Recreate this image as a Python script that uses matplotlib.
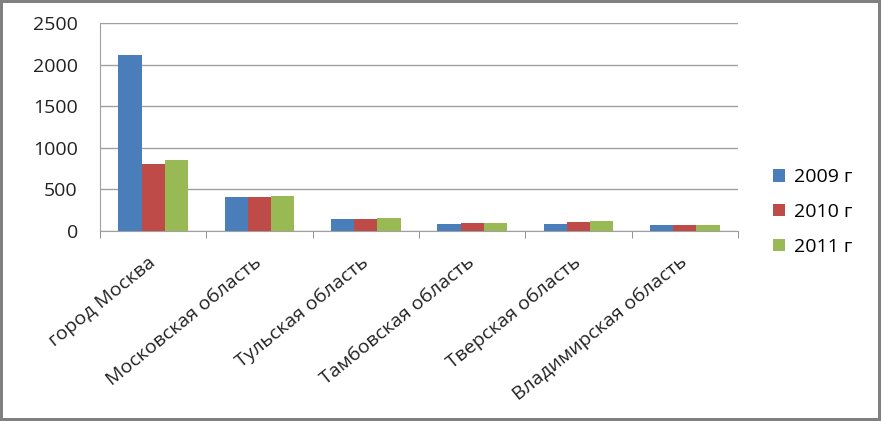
import numpy as np
import matplotlib.pyplot as plt

plt.rcParams['font.family'] = ['Open Sans', 'DejaVu Sans']

regions = ["город Москва", "Московская область", "Тульская область",
           "Тамбовская область", "Тверская область", "Владимирская область"]
years = ["2009 г", "2010 г", "2011 г"]
v2009 = [2115, 410, 144, 88, 88, 76]
v2010 = [805, 410, 144, 100, 112, 76]
v2011 = [853, 422, 152, 100, 116, 68]
colors = ["#4a7ebb", "#be4b48", "#98b954"]

fig = plt.figure(figsize=(8.81, 4.21), dpi=100)
fig.patch.set_edgecolor("#808080")
fig.patch.set_linewidth(3)
ax = fig.add_axes([100 / 881, 1 - 231 / 421, 638 / 881, 208 / 421])

x = np.arange(len(regions))
w = 0.218
for i, (vals, lab) in enumerate(zip([v2009, v2010, v2011], years)):
    ax.bar(x + (i - 1) * w, vals, w, color=colors[i], label=lab, zorder=3)

ax.set_xlim(-0.5, len(regions) - 0.5)
ax.set_ylim(0, 2500)
ax.set_yticks(range(0, 2501, 500))
ax.yaxis.grid(True, color="#a0a0a0", linewidth=1)
ax.set_axisbelow(True)
for s in ["top", "right"]:
    ax.spines[s].set_visible(False)
ax.spines["left"].set_color("#a0a0a0")
ax.spines["bottom"].set_color("#a0a0a0")
ax.tick_params(axis="y", length=0, labelsize=14, pad=16, colors="#222222")
ax.set_xticks(x)
ax.set_xticklabels(regions, rotation=39, ha="right", va="center",
                   rotation_mode="anchor", fontsize=14, color="#222222")
ax.tick_params(axis="x", length=0, pad=21)
ax.set_xticks(np.arange(-0.5, len(regions), 1), minor=True)
ax.tick_params(axis="x", which="minor", length=5, color="#808080")

fig.legend(loc="center left", bbox_to_anchor=(773 / 881, 1 - 212 / 421),
           frameon=False, fontsize=14, handlelength=0.6, handleheight=0.6,
           labelspacing=0.85, handletextpad=0.5, borderpad=0, borderaxespad=0)

fig.savefig("out.png", dpi=100, edgecolor=fig.get_edgecolor())
